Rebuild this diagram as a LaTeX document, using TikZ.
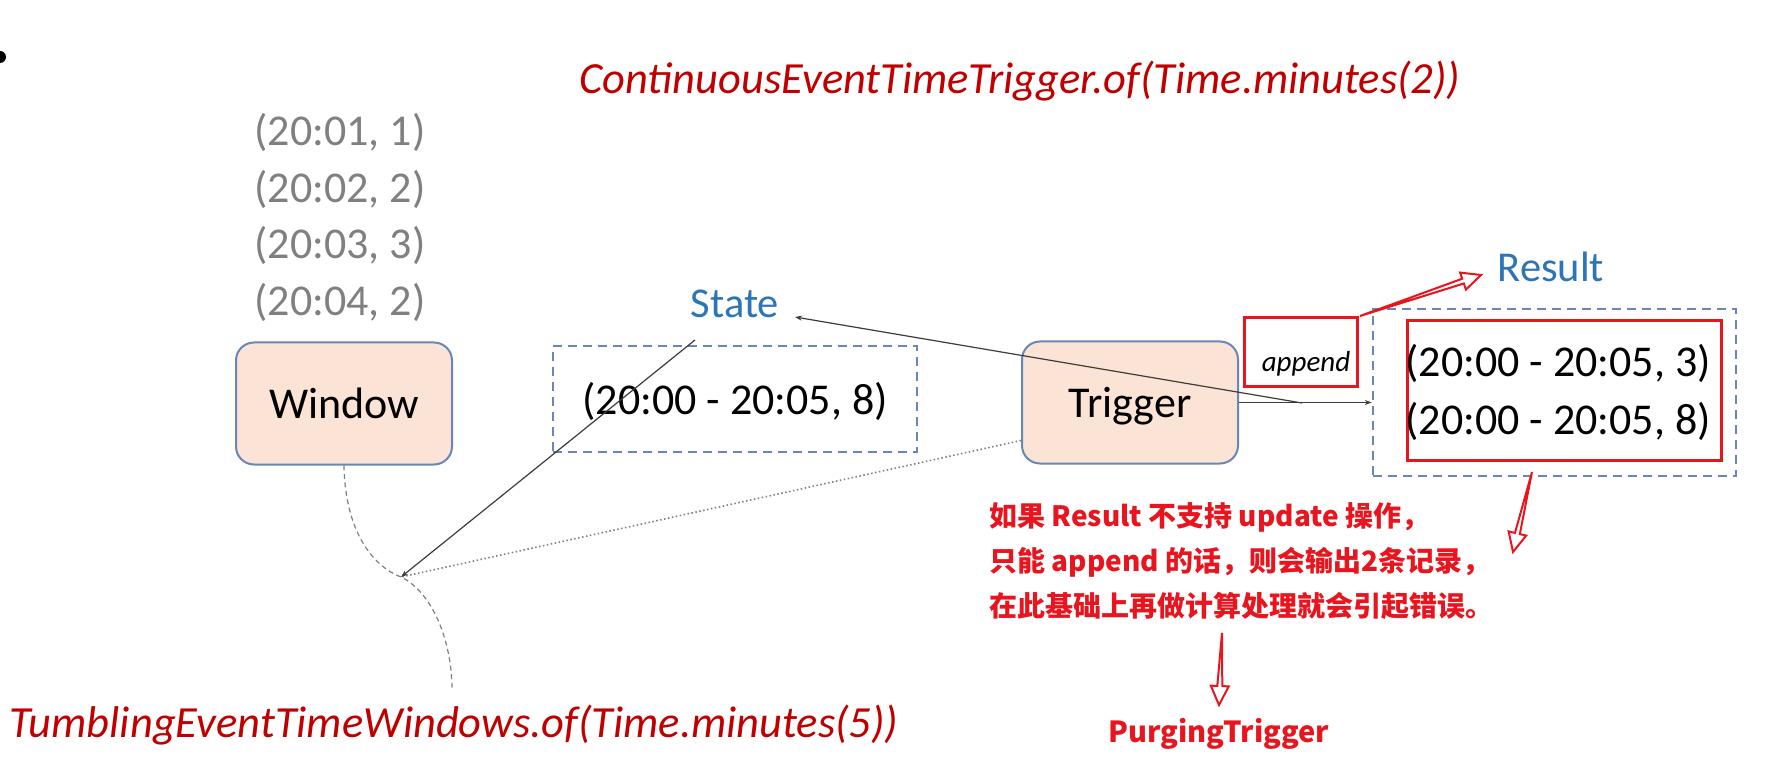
\documentclass[tikz,border=0pt]{standalone}
\usepackage{fontspec}
\setmainfont{Carlito}
\newfontfamily\cjk{Noto Sans CJK SC}
\usetikzlibrary{calc,arrows.meta}
\definecolor{titred}{RGB}{192,0,0}
\definecolor{mred}{RGB}{232,21,30}
\definecolor{lblue}{RGB}{46,117,182}
\definecolor{boxblue}{RGB}{104,134,184}
\definecolor{peach}{RGB}{251,228,213}
\definecolor{gtext}{RGB}{128,128,128}
\definecolor{lgray}{RGB}{60,60,60}
\newcommand\hollowarrow[2]{%
  \draw[harrow] let \p1=($(#2)-(#1)$), \n1={veclen(\x1,\y1)}, \n2={atan2(\y1,\x1)} in
    (#1) -- ($(#1)+(\n2:\n1-19pt)+(\n2+90:2.5pt)$) -- ($(#1)+(\n2:\n1-19pt)+(\n2+90:9pt)$)
    -- (#2) -- ($(#1)+(\n2:\n1-19pt)+(\n2-90:9pt)$) -- ($(#1)+(\n2:\n1-19pt)+(\n2-90:2.5pt)$) -- cycle;}
\tikzset{
  big/.style={font=\fontsize{44}{53}\selectfont, inner sep=0pt},
  graytext/.style={big, text=gtext, anchor=base},
  procbox/.style={draw=boxblue, line width=2pt, fill=peach, rounded corners=18pt,
    minimum width=216pt, minimum height=122pt, inner sep=0pt, text depth=0pt,
    font=\fontsize{44}{53}\selectfont},
  dbox/.style={draw=boxblue, line width=2.6pt, dash pattern=on 9pt off 6pt, inner sep=0pt},
  rbox/.style={draw=mred, line width=3pt, inner sep=0pt},
  bluelabel/.style={font=\fontsize{42.5}{50}\selectfont, text=lblue, inner sep=0pt, anchor=base},
  redcode/.style={font=\fontsize{44.5}{53}\selectfont\itshape, text=titred, inner sep=0pt, anchor=base},
  conn/.style={draw=lgray, line width=1.2pt},
  dotline/.style={draw=gray, line width=1.6pt, dash pattern=on 1.5pt off 2.5pt},
  dashline/.style={draw=gray, line width=1.2pt, dash pattern=on 5pt off 3.5pt},
  tip/.style={-{Stealth[length=7pt,width=5pt]}},
  harrow/.style={draw=mred, line width=2pt, line join=miter, fill=white},
}
\begin{document}
\begin{tikzpicture}[x=1pt,y=-1pt]
\useasboundingbox[fill=white] (0,0) rectangle (1773,767);
\fill[black] (0,57) circle (6pt);

% texts
\node[redcode] (title) at (1020,94) {ContinuousEventTimeTrigger.of(Time.minutes(2))};
\node[redcode] (tumbling) at (454,737) {TumblingEventTimeWindows.of(Time.minutes(5))};

\node[graytext] (d1) at (340,146) {(20:01, 1)};
\node[graytext] (d2) at (340,203) {(20:02, 2)};
\node[graytext] (d3) at (340,259) {(20:03, 3)};
\node[graytext] (d4) at (340,316) {(20:04, 2)};

\node[procbox] (window) at (344,403.5) {Window};
\node[procbox] (trigger) at (1130,402.5) {Trigger};

\node[bluelabel] (state) at (735,318) {State};
\node[dbox, minimum width=364pt, minimum height=106pt] (statebox) at (735,399) {};
\node[big, anchor=base] (stateval) at (735,414) {(20:00 - 20:05, 8)};

\node[bluelabel] (result) at (1551,282) {Result};
\node[dbox, minimum width=363pt, minimum height=167pt] (resbox) at (1554.5,392.5) {};
\node[rbox, minimum width=314pt, minimum height=139pt] (resred) at (1564,390.5) {};
\node[big, anchor=base] (r1) at (1558,377) {(20:00 - 20:05, 3)};
\node[big, anchor=base] (r2) at (1558,434) {(20:00 - 20:05, 8)};

\node[rbox, minimum width=113pt, minimum height=68pt] (appbox) at (1300.5,352) {};
\node[font=\fontsize{29}{34}\selectfont\itshape, inner sep=0pt, anchor=base] (append) at (1306,372) {append};

\node[font=\cjk\bfseries\fontsize{28}{45}\selectfont, text=mred, inner sep=0pt, anchor=north west, align=left] (note) at (989,502)
  {如果 Result 不支持 update 操作，\\只能 append 的话，则会输出2条记录，\\在此基础上再做计算处理就会引起错误。};
\node[font=\cjk\bfseries\fontsize{29}{34}\selectfont, text=mred, inner sep=0pt, anchor=base] (purging) at (1219,742) {PurgingTrigger};

% connectors
\coordinate (cv) at (401,577);
\coordinate (stA) at (695,340);
\coordinate (twtop) at (452,690);
\coordinate (tsA) at (1302,403);
\coordinate (stR) at (795,317);

\draw[dashline] (window.south) .. controls (345,530) and (372,566) .. (cv)
  .. controls (432,592) and (452,640) .. (twtop);
\draw[dotline] ([yshift=-38pt]trigger.west) -- (cv);
\draw[conn, tip] (stA) -- (cv);
\draw[conn, tip] (tsA) -- (stR);
\draw[conn, tip] (trigger.east) -- (resbox.west |- trigger.east);

% red hollow arrows
\coordinate (a1s) at (1360,316);
\coordinate (a1e) at (1481,275);
\coordinate (a2s) at (1532,472);
\coordinate (a2e) at (1513,552);
\coordinate (a3s) at (1222,633);
\coordinate (a3e) at (1219,705);
\hollowarrow{a1s}{a1e}
\hollowarrow{a2s}{a2e}
\hollowarrow{a3s}{a3e}
\end{tikzpicture}
\end{document}
